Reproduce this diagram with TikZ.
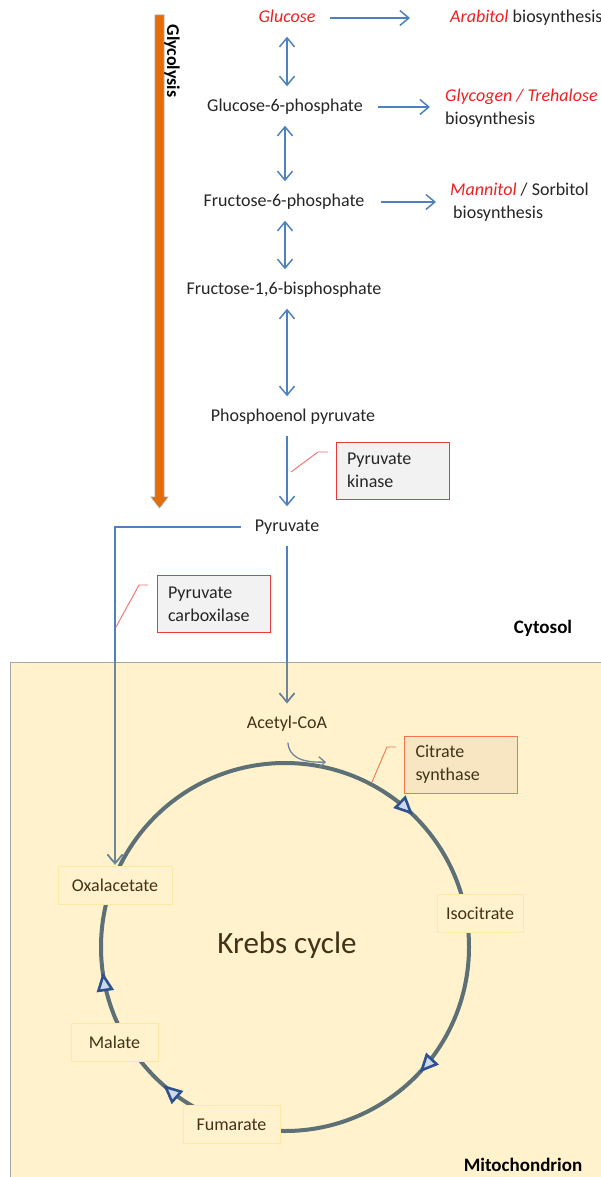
\documentclass[tikz,border=0pt]{standalone}
\usepackage{fontspec}
\setmainfont{Carlito}
\usetikzlibrary{arrows.meta,decorations.markings}

\definecolor{flow}{RGB}{79,129,189}
\definecolor{flowmito}{RGB}{112,134,150}
\definecolor{glyorange}{RGB}{228,108,10}
\definecolor{txt}{RGB}{38,38,38}
\definecolor{redtxt}{RGB}{238,32,36}
\definecolor{mitofill}{RGB}{255,242,204}
\definecolor{mitoedge}{RGB}{166,166,166}
\definecolor{cyclecol}{RGB}{92,112,118}
\definecolor{tipblue}{RGB}{47,82,143}
\definecolor{tipfill}{RGB}{205,218,236}
\definecolor{mitotxt}{RGB}{64,52,24}
\definecolor{labedge}{RGB}{255,232,165}
\definecolor{enzfill}{RGB}{242,242,242}
\definecolor{enzedge}{RGB}{228,60,60}
\definecolor{callout}{RGB}{240,110,110}
\definecolor{csfill}{RGB}{248,230,195}
\definecolor{csedge}{RGB}{244,118,74}

\begin{document}
\begin{tikzpicture}[x=1pt,y=-1pt,
  font=\fontsize{18}{23}\selectfont,
  met/.style={text=txt, inner sep=0pt, text height=13pt, text depth=4pt},
  redmet/.style={met, text=redtxt, font=\fontsize{18}{23}\selectfont\itshape},
  product/.style={text=txt, inner sep=0pt, align=left, anchor=west},
  flowarr/.style={draw=flow, line width=1.5pt, -{Straight Barb[length=9pt,width=15pt]}},
  dblarr/.style={draw=flow, line width=1.5pt,
    {Straight Barb[length=9pt,width=15pt]}-{Straight Barb[length=9pt,width=15pt]},
    shorten <=10pt, shorten >=12pt},
  enzyme/.style={draw=enzedge, fill=enzfill, line width=1pt, text=txt, align=left,
    text width=91pt, inner xsep=11pt, minimum height=57pt},
  calloutline/.style={draw=callout, line width=0.9pt},
  cyclab/.style={fill=mitofill, draw=labedge, line width=0.7pt, text=mitotxt,
    inner sep=0pt, minimum height=38pt},
  bold label/.style={font=\fontsize{19}{23}\selectfont\bfseries, text=black},
  cyctip/.tip={Triangle[length=19pt,width=17pt,line width=2.6pt,color=tipblue,fill=tipfill]},
]
\useasboundingbox (0,0) rectangle (600,1177);
\fill[white] (0,0) rectangle (600,1177);

% mitochondrion compartment
\fill[mitofill] (10,662) rectangle (606,1183);
\draw[mitoedge, line width=1pt] (606,662) -- (10,662) -- (10,1183);

% glycolysis arrow
\filldraw[fill=glyorange, draw=mitoedge, line width=0.6pt]
  (155,15) -- (164,15) -- (164,497) -- (168,497) -- (159.5,508) -- (151,497) -- (155,497) -- cycle;
\node[rotate=-90, font=\fontsize{18}{20}\selectfont\bfseries, text=black] (glyco) at (172,61) {Glycolysis};

% metabolites of the cytosol
\node[redmet] (glc) at (287,18) {Glucose};
\node[met] (g6p) at (285,107) {Glucose-6-phosphate};
\node[met] (f6p) at (284,202) {Fructose-6-phosphate};
\node[met] (f16) at (284,290) {Fructose-1,6-bisphosphate};
\node[met] (pep) at (293,417) {Phosphoenol pyruvate};
\node[met] (pyr) at (287,527) {Pyruvate};
\node[met] (acetyl) at (287,724) {\color{mitotxt}Acetyl-CoA};

\node[product] (arab) at (450,18) {{\color{redtxt}\itshape Arabitol} biosynthesis};
\node[product] (glyc) at (445,108.5) {{\color{redtxt}\itshape Glycogen / Trehalose}\\biosynthesis};
\node[product] (mann) at (450,202.5) {{\color{redtxt}\itshape Mannitol} / Sorbitol\\\hspace*{3pt}biosynthesis};

% side branches
\draw[flowarr, shorten <=14pt, shorten >=40pt] (glc.east) -- (arab.west);
\draw[flowarr, shorten <=14.5pt, shorten >=15pt] (g6p.east) -- (g6p.east -| glyc.west);
\draw[flowarr, shorten <=16pt, shorten >=14pt] (f6p.east) -- (f6p.east -| mann.west);

% main glycolytic chain
\draw[dblarr] (glc.south) -- (glc.south |- g6p.north);
\draw[dblarr] (g6p.south) -- (g6p.south |- f6p.north);
\draw[dblarr] (g6p.south |- f6p.south) -- (g6p.south |- f16.north);
\draw[dblarr] (f16.south -| pyr) -- (pep.north -| pyr);
\draw[flowarr, shorten <=10pt, shorten >=12pt] (pep.south -| pyr) -- (pyr.north);

% pyruvate fates
\draw[flowarr, shorten <=10pt, shorten >=12pt] (pyr.south) -- (acetyl.north);
\node[cyclab, minimum width=114pt] (oxa) at (115,885) {Oxalacetate};
\draw[flowarr, shorten <=14pt, shorten >=1pt] (pyr.west) -| (oxa.north);
\begin{scope}
  \clip (10,662.5) rectangle (606,1183);
  \draw[flowarr, draw=flowmito, shorten <=10pt, shorten >=12pt] (pyr.south) -- (acetyl.north);
  \draw[flowarr, draw=flowmito, shorten <=14pt, shorten >=1pt] (pyr.west) -| (oxa.north);
\end{scope}

% enzymes
\node[enzyme] (pk) at (392.5,470.5) {Pyruvate\\kinase};
\coordinate (pkA) at (291,472);
\coordinate (pkB) at (318,452);
\coordinate (pkC) at (328,452);
\draw[calloutline] (pkA) -- (pkB) -- (pkC);

\node[enzyme] (pc) at (213.5,604) {Pyruvate\\carboxilase};
\coordinate (pcA) at (116,627);
\coordinate (pcB) at (139,585);
\coordinate (pcC) at (148,585);
\draw[calloutline] (pcA) -- (pcB) -- (pcC);

\node[enzyme, draw=csedge, fill=csfill, text=mitotxt] (cs) at (461,764.5) {Citrate\\synthase};
\coordinate (csA) at (372,782);
\coordinate (csB) at (387,747);
\coordinate (csC) at (396,747);
\draw[calloutline, draw=csedge] (csA) -- (csB) -- (csC);

% compartment names
\node[bold label] (cyto) at (543,628) {Cytosol};
\node[bold label] (mito) at (523,1165) {Mitochondrion};

% Krebs cycle ring, clockwise
\coordinate (kc) at (285,947);
\draw[cyclecol, line width=4pt, postaction={decorate},
  decoration={markings,
    mark=at position 0.1194 with {\arrow{cyctip}},
    mark=at position 0.365 with {\arrow{cyctip}},
    mark=at position 0.478 with {\arrow{cyctip}},
    mark=at position 0.8725 with {\arrow{cyctip}}}]
  (kc) ++(0:184) arc[start angle=0, end angle=360, radius=184];

\coordinate (acin) at (326,762);
\draw[draw=flowmito, line width=1.3pt, -{Straight Barb[length=6pt,width=11pt]}, shorten <=10pt]
  (acetyl.south) .. controls (289,756) and (300,763) .. (acin);

\node[font=\fontsize{31}{36}\selectfont, text=mitotxt] (krebs) at (287,945) {Krebs cycle};

% cycle intermediates
\node[cyclab, minimum width=114pt] at (115,885) {Oxalacetate};
\node[cyclab, minimum width=86pt] (iso) at (480,913.5) {Isocitrate};
\node[cyclab, minimum width=87pt] (mal) at (114.5,1042.5) {Malate};
\node[cyclab, minimum width=97pt] (fum) at (231.5,1124.5) {Fumarate};
\end{tikzpicture}
\end{document}
